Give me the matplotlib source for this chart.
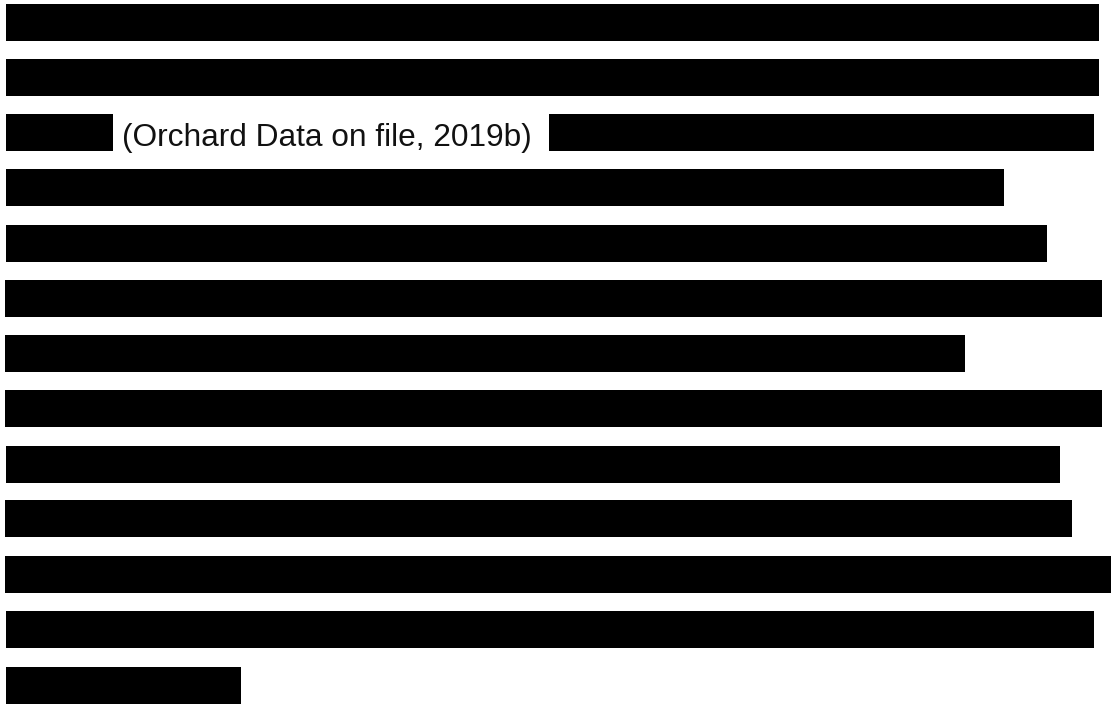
import matplotlib
matplotlib.use('Agg')
import matplotlib.pyplot as plt

# Redaction bars: one entry per line of text (top edge, bar height in pixels)
linhas_topo = [4, 59, 114, 114, 169, 225, 280, 335, 390, 446, 500, 556, 611, 667]
linhas_inicio = [6, 6, 6, 549, 6, 6, 5, 5, 5, 6, 5, 5, 6, 6]
linhas_fim = [1099, 1099, 113, 1094, 1004, 1047, 1102, 965, 1102, 1060, 1072, 1111, 1094, 241]
altura_barra = 37

texto_visivel = '(Orchard Data on file, 2019b)'

fig = plt.figure(figsize=(11.13, 7.06), dpi=100)
ax = fig.add_axes([0, 0, 1, 1])
ax.set_xlim(0, 1113)
ax.set_ylim(706, 0)
ax.axis('off')

larguras = [f - i for i, f in zip(linhas_inicio, linhas_fim)]
ax.barh(linhas_topo, larguras, left=linhas_inicio, height=altura_barra,
        align='edge', color='black', linewidth=0)

ax.text(122, 146, texto_visivel, fontsize=22.8, family=['Liberation Sans', 'DejaVu Sans'],
        color='#111111', ha='left', va='baseline')

fig.savefig('out.png', dpi=100, facecolor='white')
